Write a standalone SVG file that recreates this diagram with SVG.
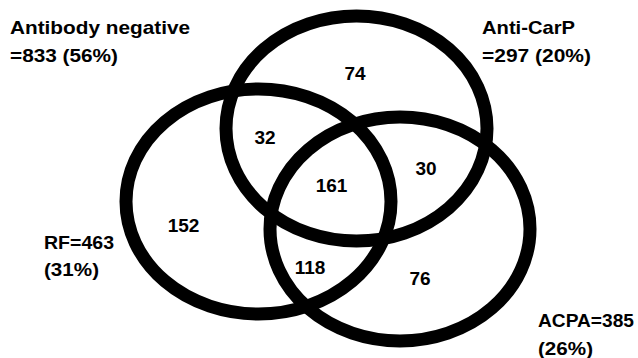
<svg xmlns="http://www.w3.org/2000/svg" width="638" height="358" viewBox="0 0 638 358">
<style>
.set{fill:none;stroke:#000;stroke-width:13}
text{font-family:"Liberation Sans",Arial,sans-serif;font-weight:bold;font-size:19px;fill:#000}
.n{text-anchor:middle}
</style>
<rect width="638" height="358" fill="#fff"/>
<g id="set-anticarp"><ellipse class="set" cx="356.5" cy="128.5" rx="130.5" ry="112.5"/></g>
<g id="set-rf"><ellipse class="set" cx="258.5" cy="201.5" rx="132.5" ry="112.5"/></g>
<g id="set-acpa"><ellipse class="set" cx="400" cy="229" rx="130" ry="112"/></g>
<g id="labels">
<text x="10" y="34" textLength="180" lengthAdjust="spacingAndGlyphs">Antibody negative</text>
<text x="10" y="62" textLength="108" lengthAdjust="spacingAndGlyphs">=833 (56%)</text>
<text x="482" y="34" textLength="93" lengthAdjust="spacingAndGlyphs">Anti-CarP</text>
<text x="482" y="62" textLength="109" lengthAdjust="spacingAndGlyphs">=297 (20%)</text>
<text x="44" y="249" textLength="70" lengthAdjust="spacingAndGlyphs">RF=463</text>
<text x="44" y="276" textLength="55" lengthAdjust="spacingAndGlyphs">(31%)</text>
<text x="538" y="327" textLength="96" lengthAdjust="spacingAndGlyphs">ACPA=385</text>
<text x="538" y="355" textLength="55" lengthAdjust="spacingAndGlyphs">(26%)</text>
</g>
<g id="counts">
<text class="n" x="355" y="80">74</text>
<text class="n" x="265" y="144">32</text>
<text class="n" x="426" y="175">30</text>
<text class="n" x="331.5" y="192">161</text>
<text class="n" x="183.5" y="232">152</text>
<text class="n" x="310" y="274">118</text>
<text class="n" x="420" y="285">76</text>
</g>
</svg>
